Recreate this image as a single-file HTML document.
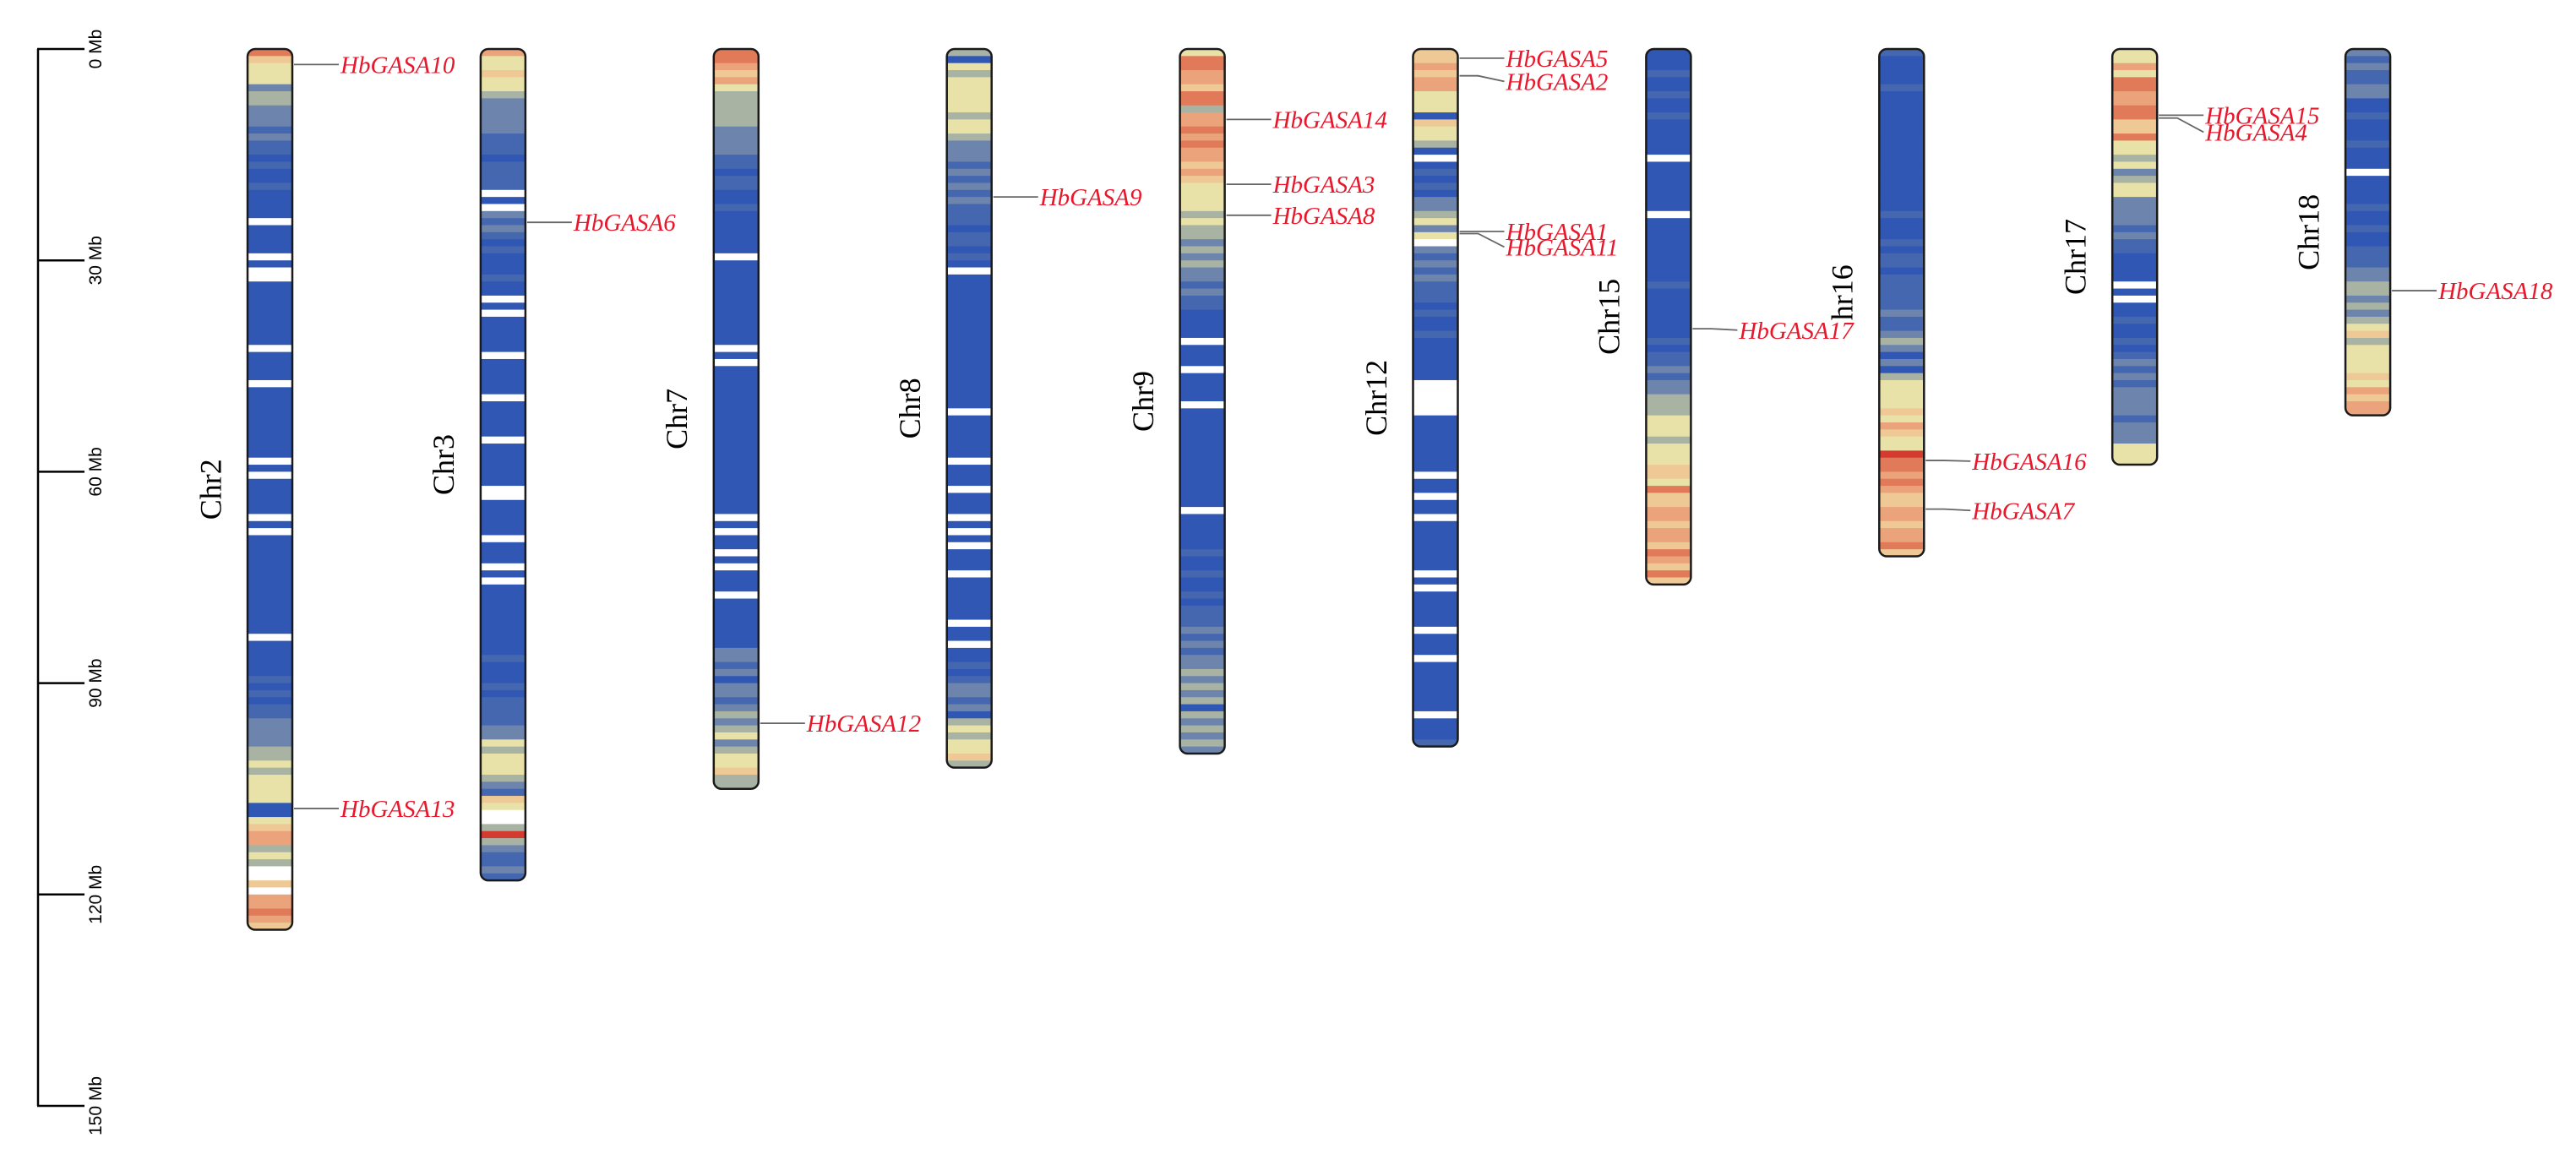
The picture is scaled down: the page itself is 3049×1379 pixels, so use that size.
<!DOCTYPE html>
<html><head><meta charset="utf-8">
<style>
html,body{margin:0;padding:0;background:#fff;}
svg{display:block;}
</style></head>
<body>
<svg id="chart" width="3049" height="1379" viewBox="0 0 3049 1379" xmlns="http://www.w3.org/2000/svg">
<g id="axis"></g>
<g id="chroms"></g>
<g id="genes"></g>
</svg>
<script>
// ---- data ----
const chromNames = ["Chr2","Chr3","Chr7","Chr8","Chr9","Chr12","Chr15","Chr16","Chr17","Chr18"];
const axisTicks = [0,30,60,90,120,150];
const axisTickLabels = ["0 Mb","30 Mb","60 Mb","90 Mb","120 Mb","150 Mb"];
// density levels per 1 Mb bin: 0 deep blue ... 8 red, -1 gap (white)
const densChr2 = [7,5,4,4,4,2,3,3,2,2, 2,1,2,1,1,0,1,0,0,1, 0,0,0,0,-1,0,0,0,0,-1, 0,-1,-1,0,0,0,0,0,0,0, 0,0,-1,0,0,0,0,-1,0,0, 0,0,0,0,0,0,0,0,-1,0, -1,0,0,0,0,0,-1,0,-1,0, 0,0,0,0,0,0,0,0,0,0, 0,0,0,-1,0,0,0,0,0,1, 0,1,0,1,1,2,2,2,2,3, 3,4,3,4,4,4,4,0,0,4, 5,6,6,3,4,3,-1,-1,5,-1, 6,6,7,6,5];
const densChr3 = [6,4,4,5,4,4,3,2,2,2, 2,2,1,1,1,0,1,1,1,1, -1,0,-1,2,1,2,1,0,1,0, 0,0,1,0,0,-1,0,-1,0,0, 0,0,0,-1,0,0,0,0,0,-1, 0,0,0,0,0,-1,0,0,0,0, 0,0,-1,-1,0,0,0,0,0,-1, 0,0,0,-1,0,-1,0,0,0,0, 0,0,0,0,0,0,1,0,0,0, 1,0,1,1,1,1,2,2,4,3, 4,4,4,3,2,1,5,4,-1,-1, 3,8,3,2,1,1,2,1];
const densChr7 = [7,7,6,5,6,4,3,3,3,3, 3,2,2,2,2,1,1,0,1,1, 0,0,1,0,0,0,0,0,0,-1, 0,0,0,0,0,0,0,0,0,0, 0,0,-1,0,-1,0,0,0,0,0, 0,0,0,0,0,0,0,0,0,0, 0,0,0,0,0,0,-1,0,-1,0, 0,-1,0,-1,0,0,0,-1,0,0, 0,0,0,0,0,2,2,1,2,0, 2,2,1,2,3,2,3,4,2,3, 4,4,5,3,3];
const densChr8 = [3,0,4,3,4,4,4,4,4,3, 4,4,3,2,2,2,1,2,1,2, 1,2,1,1,1,0,1,1,0,1, 0,-1,0,0,0,0,0,0,0,0, 0,0,0,0,0,0,0,0,0,0, 0,-1,0,0,0,0,0,0,-1,0, 0,0,-1,0,0,0,-1,0,-1,0, -1,0,0,0,-1,0,0,0,0,0, 0,-1,0,0,-1,0,0,1,0,1, 2,2,1,2,0,3,4,3,4,4, 5,3];
const densChr9 = [4,7,7,6,6,5,7,7,3,6, 6,7,6,7,6,6,5,6,5,4, 4,4,4,3,4,3,3,2,3,2, 3,2,2,1,2,1,1,0,0,0, 0,-1,0,0,0,-1,0,0,0,0, -1,0,0,0,0,0,0,0,0,0, 0,0,0,0,0,-1,0,0,0,0, 0,1,0,0,1,0,0,1,0,1, 1,1,2,1,2,1,2,2,3,2, 3,2,3,0,3,2,3,2,3,2];
const densChr12 = [5,5,6,5,6,6,4,4,4,0, 5,4,4,3,0,-1,0,1,0,1, 0,2,2,3,4,2,4,-1,2,1, 2,1,2,1,1,1,0,1,0,0, 1,0,0,0,0,0,0,-1,-1,-1, -1,-1,0,0,0,0,0,0,0,0, -1,0,0,-1,0,0,-1,0,0,0, 0,0,0,0,-1,0,-1,0,0,0, 0,0,-1,0,0,0,-1,0,0,0, 0,0,0,0,-1,0,0,0,1];
const densChr15 = [0,0,0,1,0,0,1,0,0,1, 0,0,0,0,0,-1,0,0,0,0, 0,0,0,-1,0,0,0,0,0,0, 0,0,0,1,0,0,0,0,0,0, 0,1,0,1,1,2,1,2,2,3, 3,3,4,4,4,3,4,4,4,5, 5,4,7,5,5,6,6,5,6,6, 5,7,6,5,7,5];
const densChr16 = [1,0,0,0,0,1,0,0,0,0, 0,0,0,0,0,0,0,0,0,0, 0,0,0,1,0,0,0,1,0,1, 1,0,1,1,1,1,1,2,1,1, 2,3,2,0,2,0,3,4,4,4, 4,5,4,6,5,4,4,8,7,7, 6,7,6,5,5,6,6,5,6,6, 7,5];
const densChr17 = [4,4,6,4,7,7,6,6,7,7, 5,5,7,4,4,3,4,2,3,4, 4,2,2,2,2,1,2,1,1,0, 0,0,0,-1,0,-1,0,0,1,0, 0,1,0,1,2,1,2,1,2,2, 2,2,1,2,2,2,4,4,4];
const densChr18 = [2,1,2,1,1,2,2,0,0,1, 0,0,0,1,0,0,0,-1,0,0, 0,0,1,0,0,1,0,0,1,1, 1,2,2,3,3,2,3,2,3,4, 5,3,4,4,4,4,5,4,6,5, 6,6];
const geneNames = ["HbGASA10","HbGASA13","HbGASA6","HbGASA12","HbGASA9","HbGASA14","HbGASA3","HbGASA8","HbGASA5","HbGASA2","HbGASA1","HbGASA11","HbGASA17","HbGASA16","HbGASA7","HbGASA15","HbGASA4","HbGASA18"];
const geneChrom = [0,0,1,2,3,4,4,4,5,5,5,5,6,7,7,8,8,9];
const genePosMb = [2.2,107.8,24.6,95.7,21.0,10.0,19.2,23.6,1.3,3.8,25.9,26.2,39.7,58.4,65.3,9.4,9.8,34.3];
const labelPosMb = [2.2,107.8,24.6,95.7,21.0,10.0,19.2,23.6,1.3,4.6,25.9,28.1,39.9,58.5,65.5,9.4,11.8,34.3];

// ---- layout ----
const Y0 = 58, PXMB = 8.34;
const yS = mb => Y0 + mb * PXMB;
const CH_X0 = 293, CH_DX = 275.9, CH_W = 53;
const chX = i => CH_X0 + i * CH_DX;
const palette = ["#3157b4","#4567b0","#6d85ad","#a8b3a4","#e8e2a8","#efc995","#eaa37a","#e17a58","#d33a30"];
const dens = [densChr2,densChr3,densChr7,densChr8,densChr9,densChr12,densChr15,densChr16,densChr17,densChr18];
const NS = "http://www.w3.org/2000/svg";
function mk(tag, attrs, parent){const e=document.createElementNS(NS,tag);for(const k in attrs)e.setAttribute(k,attrs[k]);parent.appendChild(e);return e;}

// axis
const ax = document.getElementById('axis');
const axLine = mk('line',{x1:45,y1:yS(axisTicks[0]),x2:45,y2:yS(axisTicks[axisTicks.length-1]),stroke:'#000','stroke-width':2.5},ax);


axisTicks.forEach((t,i)=>{
  const y=yS(t);
  const tk=mk('line',{x1:44,y1:y,x2:100,y2:y,stroke:'#000','stroke-width':2.5},ax);
  
  
  const tx=mk('text',{x:0,y:0,transform:`translate(120,${y}) rotate(-90)`,'text-anchor':'middle','font-family':'"Liberation Sans",sans-serif','font-size':21,fill:'#000'},ax);
  tx.textContent=axisTickLabels[i];
  
  
});

// chromosomes
const cg = document.getElementById('chroms');
const defs = mk('defs',{},cg);
dens.forEach((arr,i)=>{
  const x=chX(i), top=yS(0), h=arr.length*PXMB;
  const cp=mk('clipPath',{id:'cp'+i},defs);
  mk('rect',{x:x,y:top,width:CH_W,height:h,rx:9,ry:9},cp);
  const g=mk('g',{'clip-path':`url(#cp${i})`},cg);
  
  
  mk('rect',{x:x,y:top,width:CH_W,height:h,fill:'#fff'},g);
  arr.forEach((v,b)=>{
    const col = v<0 ? '#ffffff' : palette[v];
    const r=mk('rect',{x:x,y:yS(b),width:CH_W,height:PXMB+0.6,fill:col},g);
    
    
  });
  const outline=mk('rect',{x:x,y:top,width:CH_W,height:h,rx:9,ry:9,fill:'none',stroke:'#1a1a1a','stroke-width':2.5},cg);
  
  
});

// chromosome name labels
chromNames.forEach((n,i)=>{
  const cx=chX(i)-40, cy=yS(dens[i].length/2);
  const t=mk('text',{x:0,y:0,transform:`translate(${cx},${cy}) rotate(-90)`,'text-anchor':'middle','dominant-baseline':'middle','font-family':'"Liberation Serif",serif','font-size':36,fill:'#000'},cg);
  t.textContent=n;
  
  
});

// genes: connectors + backgrounds first, then texts
const gg=document.getElementById('genes');
const bgLayer=mk('g',{},gg);


const txtLayer=mk('g',{},gg);


geneNames.forEach((n,k)=>{
  const i=geneChrom[k], x1=chX(i)+CH_W+2, yc=yS(genePosMb[k]), yl=yS(labelPosMb[k]);
  const lx=x1+55;
  const bg=mk('rect',{x:lx,y:yl-12,width:140,height:24,fill:'#fff'},bgLayer);
  
  
  const ln=mk('polyline',{points:`${x1},${yc} ${x1+22},${yc} ${lx-2},${yl}`,fill:'none',stroke:'#666','stroke-width':1.8},bgLayer);
  
  
  const t=mk('text',{x:lx,y:yl+10,'font-family':'"Liberation Serif",serif','font-style':'italic','font-size':29,fill:'#e8182c'},txtLayer);
  t.textContent=n;
  
  
});
</script>
</body></html>
